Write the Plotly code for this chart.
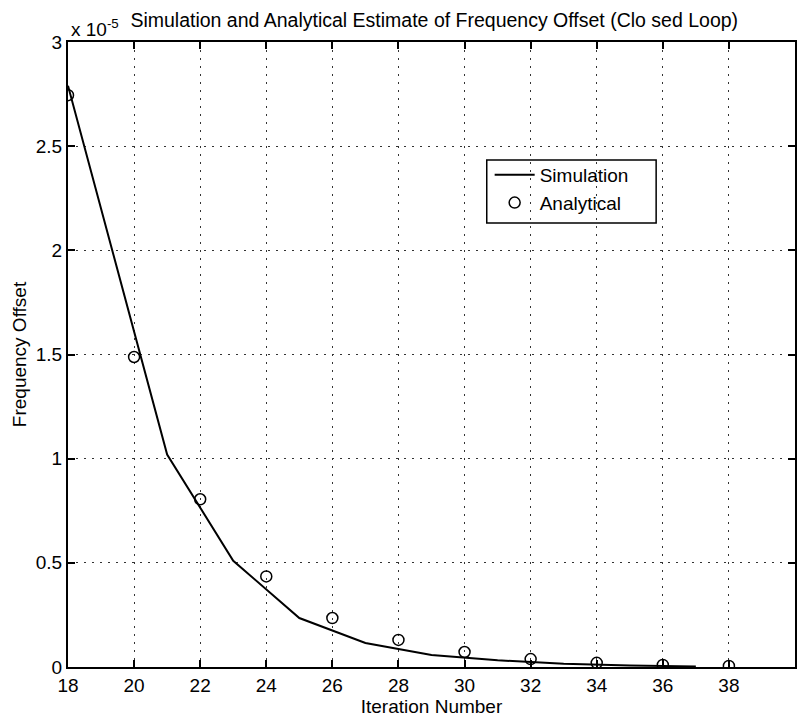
import plotly.graph_objects as go

# Simulated frequency offset (units of 1e-5)
sim_iter = [18, 21, 23, 25, 27, 29, 31, 33, 35, 37]
sim_offset = [2.79, 1.02, 0.51, 0.235, 0.115, 0.058, 0.032, 0.016, 0.007, 0.003]

# Analytical estimate (units of 1e-5)
ana_iter = [18, 20, 22, 24, 26, 28, 30, 32, 34, 36, 38]
ana_offset = [2.745, 1.488, 0.805, 0.435, 0.235, 0.13, 0.072, 0.038, 0.02, 0.01, 0.005]

x_ticks = list(range(18, 39, 2))
y_ticks = [0, 0.5, 1, 1.5, 2, 2.5, 3]
y_tick_text = ["0", "0.5", "1", "1.5", "2", "2.5", "3"]

FONT = "Liberation Sans, Arial, Helvetica, sans-serif"

fig = go.Figure()
fig.add_trace(go.Scatter(
    x=sim_iter, y=sim_offset, mode="lines", name="Simulation",
    line=dict(color="black", width=2),
))
fig.add_trace(go.Scatter(
    x=ana_iter, y=ana_offset, mode="markers", name="Analytical",
    marker=dict(symbol="circle-open", size=11, color="black", line=dict(width=1.5)),
))

axis_common = dict(
    showline=True, linecolor="black", linewidth=2, mirror="ticks",
    ticks="inside", ticklen=7, tickwidth=1.5, tickcolor="black",
    showgrid=True, gridcolor="#333333", gridwidth=1, griddash="1.5px,6.5px",
    zeroline=False,
    tickfont=dict(family=FONT, size=19, color="black"),
)

fig.update_layout(
    width=799, height=723,
    margin=dict(l=68, r=2, t=42, b=56),
    paper_bgcolor="white", plot_bgcolor="white",
    font=dict(family=FONT, color="black"),
    showlegend=True,
    legend=dict(
        x=0.58, y=0.8176, xanchor="left", yanchor="top",
        bgcolor="rgba(0,0,0,0)", borderwidth=0,
        font=dict(family=FONT, size=19, color="black"),
        tracegroupgap=0, itemwidth=40,
    ),
    # transparent legend frame (grid stays visible through it)
    shapes=[dict(
        type="rect", xref="paper", yref="paper",
        x0=0.576, x1=0.809, y0=0.7104, y1=0.8112,
        line=dict(color="black", width=1.5), fillcolor="rgba(0,0,0,0)",
        layer="above",
    )],
    title=dict(
        text="Simulation and Analytical Estimate of Frequency Offset (Clo sed Loop)",
        x=0.5435, xanchor="center", y=0.972, yanchor="middle",
        font=dict(family=FONT, size=19.5, color="black"),
    ),
    xaxis=dict(
        range=[18, 40], tickvals=x_ticks,
        title=dict(text="Iteration Number", font=dict(family=FONT, size=19), standoff=0),
        **axis_common,
    ),
    yaxis=dict(
        range=[0, 3], tickvals=y_ticks, ticktext=y_tick_text,
        title=dict(text="Frequency Offset", font=dict(family=FONT, size=19), standoff=4),
        **axis_common,
    ),
    annotations=[dict(
        text="x 10<sup>-5</sup>", xref="paper", yref="paper",
        x=0.0, y=1.0, xanchor="left", yanchor="bottom", yshift=0, xshift=1,
        showarrow=False, font=dict(family=FONT, size=19, color="black"),
    )],
)

fig.write_html("out.html")
